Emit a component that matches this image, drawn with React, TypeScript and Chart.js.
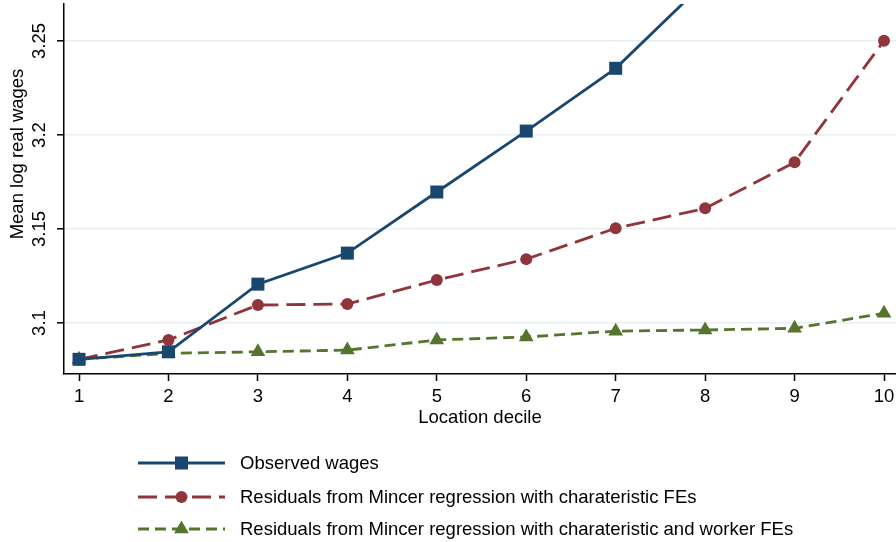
import React, { useEffect, useRef } from 'react';
import { Chart, registerables } from 'chart.js';

Chart.register(...registerables);

const FONT = '"Liberation Sans", Arial, Helvetica, sans-serif';
const FS = 18.5;

const DECILES = [1, 2, 3, 4, 5, 6, 7, 8, 9, 10];
const OBSERVED = [3.0807, 3.0847, 3.1207, 3.1372, 3.1697, 3.2021, 3.2355, 3.2814, 3.33, 3.38];
const RESID_CHAR = [3.0807, 3.091, 3.1096, 3.1101, 3.1229, 3.134, 3.1504, 3.161, 3.1855, 3.2502];
const RESID_CHAR_WORKER = [3.0807, 3.0839, 3.0847, 3.0856, 3.091, 3.0926, 3.0957, 3.0963, 3.0972, 3.1052];
const Y_TICKS = [3.1, 3.15, 3.2, 3.25];
const Y_TICK_LABELS = ['3.1', '3.15', '3.2', '3.25'];
const X_TICKS = DECILES;
const SERIES_NAMES = [
  'Observed wages',
  'Residuals from Mincer regression with charateristic FEs',
  'Residuals from Mincer regression with charateristic and worker FEs',
];
const Y_TITLE = 'Mean log real wages';
const X_TITLE = 'Location decile';

const NAVY = '#1a476f';
const MAROON = '#90353b';
const GREEN = '#55752f';

function drawMarker(ctx: CanvasRenderingContext2D, style: string, x: number, y: number, r: number, color: string) {
  ctx.save();
  ctx.fillStyle = color;
  ctx.beginPath();
  if (style === 'rect') {
    const s = Math.SQRT1_2 * r;
    ctx.rect(x - s, y - s, 2 * s, 2 * s);
  } else if (style === 'circle') {
    ctx.arc(x, y, r, 0, Math.PI * 2);
  } else if (style === 'triangle') {
    let a = 0;
    ctx.moveTo(x + Math.sin(a) * r, y - Math.cos(a) * r);
    a += (2 * Math.PI) / 3;
    ctx.lineTo(x + Math.sin(a) * r, y - Math.cos(a) * r);
    a += (2 * Math.PI) / 3;
    ctx.lineTo(x + Math.sin(a) * r, y - Math.cos(a) * r);
    ctx.closePath();
  }
  ctx.fill();
  ctx.restore();
}

const textPlugin = {
  id: 'textPlugin',
  afterDraw(chart: any) {
    const ctx: CanvasRenderingContext2D = chart.ctx;
    const ys = chart.scales.y;
    ctx.save();
    ctx.fillStyle = '#000';
    ctx.font = `${FS}px ${FONT}`;
    ctx.textAlign = 'center';
    ctx.textBaseline = 'middle';
    Y_TICKS.forEach((v, i) => {
      const py = ys.getPixelForValue(v);
      ctx.save();
      ctx.translate(40, py);
      ctx.rotate(-Math.PI / 2);
      ctx.fillText(Y_TICK_LABELS[i], 0, 0);
      ctx.restore();
    });
    ctx.save();
    ctx.translate(18, 154);
    ctx.rotate(-Math.PI / 2);
    ctx.fillText(Y_TITLE, 0, 0);
    ctx.restore();

    // legend
    const rows = [463, 497, 529];
    ctx.textAlign = 'left';
    chart.data.datasets.forEach((ds: any, i: number) => {
      const ry = rows[i];
      ctx.save();
      ctx.strokeStyle = ds.borderColor;
      ctx.lineWidth = ds.borderWidth;
      ctx.setLineDash(ds.borderDash || []);
      ctx.beginPath();
      ctx.moveTo(138, ry);
      ctx.lineTo(225, ry);
      ctx.stroke();
      ctx.restore();
      drawMarker(ctx, ds.pointStyle, 181.5, ry, ds.pointRadius, ds.pointBackgroundColor);
      ctx.fillStyle = '#000';
      ctx.fillText(SERIES_NAMES[i], 240, ry + 1);
    });
    ctx.restore();
  },
};

export default function App() {
  const ref = useRef<HTMLCanvasElement | null>(null);
  useEffect(() => {
    if (!ref.current) return;
    const mk = (vals: number[]) => DECILES.map((d, i) => ({ x: d, y: vals[i] }));
    const chart = new Chart(ref.current, {
      type: 'line',
      data: {
        datasets: [
          {
            label: SERIES_NAMES[0],
            data: mk(OBSERVED),
            borderColor: NAVY,
            backgroundColor: NAVY,
            borderWidth: 2.8,
            pointStyle: 'rect',
            pointRadius: 9.2,
            pointBackgroundColor: NAVY,
            pointBorderWidth: 0,
            tension: 0,
          },
          {
            label: SERIES_NAMES[1],
            data: mk(RESID_CHAR),
            borderColor: MAROON,
            backgroundColor: MAROON,
            borderWidth: 2.8,
            borderDash: [19, 8],
            pointStyle: 'circle',
            pointRadius: 6,
            pointBackgroundColor: MAROON,
            pointBorderWidth: 0,
            tension: 0,
          },
          {
            label: SERIES_NAMES[2],
            data: mk(RESID_CHAR_WORKER),
            borderColor: GREEN,
            backgroundColor: GREEN,
            borderWidth: 2.8,
            borderDash: [11, 6],
            pointStyle: 'triangle',
            pointRadius: 8.5,
            pointBackgroundColor: GREEN,
            pointBorderWidth: 0,
            tension: 0,
          },
        ] as any,
      },
      options: {
        animation: false,
        responsive: false,
        devicePixelRatio: 1,
        layout: { autoPadding: false, padding: { top: 4, right: 0, bottom: 98, left: 0 } },
        plugins: { legend: { display: false }, tooltip: { enabled: false } },
        scales: {
          x: {
            type: 'linear',
            min: 0.832,
            max: 10.134,
            afterBuildTicks: (s: any) => {
              s.ticks = X_TICKS.map((v) => ({ value: v }));
            },
            afterFit: (s: any) => {
              s.height = 70;
              s.paddingLeft = 0;
              s.paddingRight = 0;
            },
            ticks: {
              color: '#000',
              font: { family: FONT, size: FS },
              padding: 5,
              maxRotation: 0,
              minRotation: 0,
              callback: (v: any) => String(v),
            },
            grid: {
              drawOnChartArea: false,
              drawTicks: true,
              tickLength: 7,
              tickColor: '#000',
              tickWidth: 1.5,
            },
            border: { display: true, color: '#000', width: 1.5 },
            title: {
              display: true,
              text: X_TITLE,
              color: '#000',
              font: { family: FONT, size: FS },
              padding: { top: 0, bottom: 15 },
            },
          },
          y: {
            type: 'linear',
            min: 3.0729,
            max: 3.2697,
            afterBuildTicks: (s: any) => {
              s.ticks = Y_TICKS.map((v) => ({ value: v }));
            },
            afterFit: (s: any) => {
              s.width = 64;
            },
            ticks: { display: false },
            grid: {
              color: '#e8eff1',
              lineWidth: 1.6,
              drawTicks: true,
              tickLength: 7,
              tickColor: '#000',
              tickWidth: 1.5,
            },
            border: { display: true, color: '#000', width: 1.5 },
          },
        },
      },
      plugins: [textPlugin],
    });
    return () => chart.destroy();
  }, []);
  return (
    <div style={{ position: 'absolute', left: 0, top: 0, width: 896, height: 542, background: '#fff' }}>
      <canvas ref={ref} width={896} height={542} style={{ display: 'block' }} />
    </div>
  );
}
